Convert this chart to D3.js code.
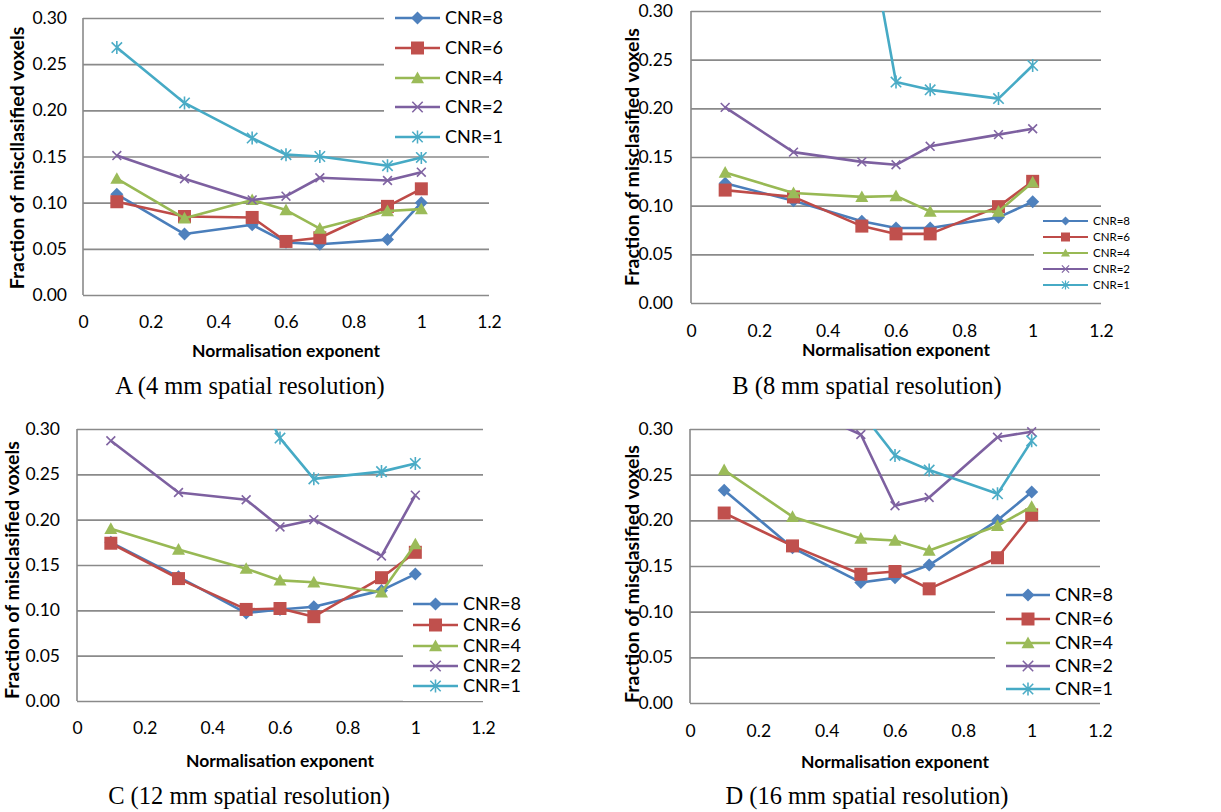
<!DOCTYPE html>
<html>
<head>
<meta charset="utf-8">
<script src="https://cdn.jsdelivr.net/npm/d3@7"></script>
<style>
  body { margin: 0; background: #fff; }
  svg text { font-family: Lato, "Open Sans", sans-serif; fill: #000; }
  svg text.caption { font-family: "Liberation Serif", serif; }
</style>
</head>
<body>
<svg id="chart" width="1221" height="812"></svg>
<script>
// x values shared by every panel
var exponent = [0.1, 0.3, 0.5, 0.6, 0.7, 0.9, 1.0];
var cnrNames = ["CNR=8", "CNR=6", "CNR=4", "CNR=2", "CNR=1"];
var yTicks = [0, 0.05, 0.10, 0.15, 0.20, 0.25, 0.30];
var xTicks = [0, 0.2, 0.4, 0.6, 0.8, 1.0, 1.2];

// A (4 mm)
var cnr8A = [0.109, 0.066, 0.076, 0.057, 0.055, 0.060, 0.100];
var cnr6A = [0.101, 0.085, 0.084, 0.058, 0.062, 0.096, 0.115];
var cnr4A = [0.126, 0.083, 0.103, 0.092, 0.072, 0.091, 0.093];
var cnr2A = [0.151, 0.126, 0.103, 0.107, 0.127, 0.124, 0.133];
var cnr1A = [0.268, 0.208, 0.170, 0.152, 0.150, 0.140, 0.149];

// B (8 mm) - values above 0.30 are cut off in the picture, guessed
var cnr8B = [0.123, 0.105, 0.084, 0.077, 0.077, 0.088, 0.104];
var cnr6B = [0.116, 0.109, 0.079, 0.071, 0.071, 0.099, 0.125];
var cnr4B = [0.134, 0.113, 0.109, 0.110, 0.094, 0.094, 0.124];
var cnr2B = [0.201, 0.155, 0.145, 0.142, 0.161, 0.173, 0.179];
var cnr1B = [0.60, 0.50, 0.42, 0.227, 0.219, 0.210, 0.244];

// C (12 mm)
var cnr8C = [0.175, 0.137, 0.097, 0.101, 0.104, 0.122, 0.140];
var cnr6C = [0.174, 0.135, 0.101, 0.102, 0.093, 0.136, 0.164];
var cnr4C = [0.190, 0.167, 0.146, 0.133, 0.131, 0.120, 0.173];
var cnr2C = [0.287, 0.230, 0.222, 0.192, 0.200, 0.160, 0.227];
var cnr1C = [0.45, 0.40, 0.36, 0.290, 0.245, 0.253, 0.262];

// D (16 mm)
var cnr8D = [0.233, 0.170, 0.132, 0.137, 0.151, 0.200, 0.231];
var cnr6D = [0.208, 0.172, 0.141, 0.144, 0.125, 0.159, 0.206];
var cnr4D = [0.255, 0.204, 0.180, 0.178, 0.167, 0.194, 0.215];
var cnr2D = [0.36, 0.327, 0.294, 0.216, 0.225, 0.291, 0.297];
var cnr1D = [0.40, 0.36, 0.319, 0.271, 0.255, 0.229, 0.287];

var lineColors = ["#4A7EBB", "#BE4B48", "#98B954", "#7D60A0", "#46AAC5"];
var markColors = ["#4F81BD", "#C0504D", "#9BBB59", "#8064A2", "#4BACC6"];
var markTypes = ["diamond", "square", "triangle", "x", "star"];

var svg = d3.select("#chart");

// marker path centred on 0,0, r = half size
function markerPath(type, r) {
  if (type == "diamond") return "M0," + (-r) + "L" + r + ",0L0," + r + "L" + (-r) + ",0Z";
  if (type == "square") return "M" + (-r) + "," + (-r) + "h" + 2 * r + "v" + 2 * r + "h" + (-2 * r) + "Z";
  if (type == "triangle") return "M0," + (-r) + "L" + r + "," + (r * 0.8) + "L" + (-r) + "," + (r * 0.8) + "Z";
  var k = r * 0.8;
  var p = "M" + (-k) + "," + (-k) + "L" + k + "," + k + "M" + (-k) + "," + k + "L" + k + "," + (-k);
  if (type == "star") p += "M0," + (-r) + "L0," + r;
  return p;
}

function addMarker(sel, i, r, sw) {
  var t = markTypes[i];
  var m = sel.append("path").attr("d", markerPath(t, r));
  if (t == "x" || t == "star") {
    m.attr("fill", "none").attr("stroke", markColors[i]).attr("stroke-width", sw);
  } else {
    m.attr("fill", markColors[i]);
  }
  return m;
}

function drawPanel(p, rows, yTitle, caption) {
  var g = svg.append("g");
  var x = d3.scaleLinear().domain([0, 1.2]).range([p.left, p.right]);
  var y = d3.scaleLinear().domain([0, 0.3]).range([p.bottom, p.top]);

  // gridlines
  g.append("g")
    .attr("transform", "translate(" + p.left + ",0)")
    .call(d3.axisLeft(y).tickValues(yTicks).tickSize(-(p.right - p.left)).tickFormat(""))
    .call(function(a) {
      a.select(".domain").remove();
      a.selectAll("line").attr("stroke", "#8a8a8a").attr("stroke-width", 1.6);
    });
  // y axis line
  g.append("line")
    .attr("x1", p.left).attr("x2", p.left)
    .attr("y1", y(0.3)).attr("y2", y(0))
    .attr("stroke", "#8a8a8a").attr("stroke-width", 1.6);

  // tick labels
  g.append("g")
    .attr("transform", "translate(" + p.left + ",0)")
    .call(d3.axisLeft(y).tickValues(yTicks).tickSize(0).tickPadding(p.yPad).tickFormat(d3.format(".2f")))
    .call(function(a) {
      a.select(".domain").remove();
      a.selectAll("text").attr("font-size", p.tickFont).attr("font-family", null).attr("fill", "#000");
    });
  g.append("g")
    .attr("transform", "translate(0," + p.xLabY + ")")
    .call(d3.axisBottom(x).tickValues(xTicks).tickSize(0).tickPadding(0).tickFormat(function(d) { return String(+d.toFixed(1)); }))
    .call(function(a) {
      a.select(".domain").remove();
      a.selectAll("text").attr("font-size", p.tickFont).attr("font-family", null).attr("fill", "#000").attr("dy", "0.35em");
    });

  // axis titles
  g.append("text")
    .attr("transform", "translate(" + p.yTitleX + "," + p.yTitleY + ") rotate(-90)")
    .attr("text-anchor", "middle").attr("dy", "0.35em")
    .attr("font-weight", "bold").attr("font-size", 19.5)
    .text(yTitle);
  g.append("text")
    .attr("x", (p.left + p.right) / 2).attr("y", p.xTitleY)
    .attr("text-anchor", "middle").attr("dy", "0.35em")
    .attr("font-weight", "bold").attr("font-size", 17.5)
    .text("Normalisation exponent");
  g.append("text").attr("class", "caption")
    .attr("x", p.capX).attr("y", p.capY)
    .attr("text-anchor", "middle").attr("dy", "0.35em")
    .attr("font-size", 24.5)
    .text(caption);

  // series
  var clipId = "clip" + p.name;
  svg.append("clipPath").attr("id", clipId)
    .append("rect")
    .attr("x", p.left).attr("y", p.top)
    .attr("width", p.right - p.left).attr("height", p.bottom - p.top + 10);

  var line = d3.line()
    .x(function(d, i) { return x(exponent[i]); })
    .y(function(d) { return y(d); });

  rows.forEach(function(vals, i) {
    g.append("path")
      .attr("d", line(vals))
      .attr("fill", "none")
      .attr("stroke", lineColors[i])
      .attr("stroke-width", 2.6)
      .attr("stroke-linejoin", "round")
      .attr("clip-path", "url(#" + clipId + ")");
    vals.forEach(function(v, j) {
      if (v > 0.3) return;
      addMarker(g, i, i == 3 ? 5.5 : 6.5, 1.6)
        .attr("transform", "translate(" + x(exponent[j]) + "," + y(v) + ")");
    });
  });

  // legend on a white box
  var leg = g.append("g");
  leg.append("rect")
    .attr("x", p.legBox[0]).attr("y", p.legBox[1])
    .attr("width", p.legBox[2]).attr("height", p.legBox[3])
    .attr("fill", "#fff");
  cnrNames.forEach(function(name, i) {
    var yy = p.legY[i];
    leg.append("line")
      .attr("x1", p.legX[0]).attr("x2", p.legX[1])
      .attr("y1", yy).attr("y2", yy)
      .attr("stroke", lineColors[i]).attr("stroke-width", p.legLine);
    addMarker(leg, i, p.legMark, p.legLine * 0.6)
      .attr("transform", "translate(" + (p.legX[0] + p.legX[1]) / 2 + "," + yy + ")");
    leg.append("text")
      .attr("x", p.legX[2]).attr("y", yy)
      .attr("dy", "0.35em")
      .attr("font-size", p.legFont)
      .text(name);
  });
}

drawPanel({
  name: "A", left: 83, right: 489, top: 18, bottom: 295,
  yPad: 16, xLabY: 322, xTitleY: 351, capX: 250, capY: 385,
  yTitleX: 17, yTitleY: 158, tickFont: 17.5,
  legBox: [384, 0, 120, 152], legX: [395, 440, 445], legY: [18, 48, 78, 107, 137],
  legFont: 18, legLine: 2.6, legMark: 6.5
}, [cnr8A, cnr6A, cnr4A, cnr2A, cnr1A], "Fraction of miscllasified voxels", "A (4 mm spatial resolution)");

drawPanel({
  name: "B", left: 691, right: 1101, top: 11, bottom: 303,
  yPad: 18, xLabY: 331, xTitleY: 350, capX: 867, capY: 385,
  yTitleX: 632, yTitleY: 157, tickFont: 17.5,
  legBox: [1034, 212, 187, 88], legX: [1043, 1088, 1093], legY: [221, 237, 253, 269, 285],
  legFont: 11.5, legLine: 2, legMark: 4.5
}, [cnr8B, cnr6B, cnr4B, cnr2B, cnr1B], "Fraction of misclasified voxels", "B (8 mm spatial resolution)");

drawPanel({
  name: "C", left: 77, right: 483, top: 429, bottom: 701,
  yPad: 17, xLabY: 728, xTitleY: 761, capX: 249, capY: 795,
  yTitleX: 12, yTitleY: 570, tickFont: 17.5,
  legBox: [403, 593, 120, 108], legX: [413, 458, 463], legY: [604, 625, 646, 666, 686],
  legFont: 18, legLine: 2.6, legMark: 6.5
}, [cnr8C, cnr6C, cnr4C, cnr2C, cnr1C], "Fraction of misclasified voxels", "C (12 mm spatial resolution)");

drawPanel({
  name: "D", left: 690, right: 1100, top: 429, bottom: 703,
  yPad: 17, xLabY: 731, xTitleY: 762, capX: 867, capY: 795,
  yTitleX: 632, yTitleY: 574, tickFont: 17.5,
  legBox: [995, 583, 226, 119], legX: [1006, 1050, 1055], legY: [595, 619, 643, 666, 689],
  legFont: 18, legLine: 2.6, legMark: 6.5
}, [cnr8D, cnr6D, cnr4D, cnr2D, cnr1D], "Fraction of misclasified voxels", "D (16 mm spatial resolution)");
</script>
</body>
</html>
